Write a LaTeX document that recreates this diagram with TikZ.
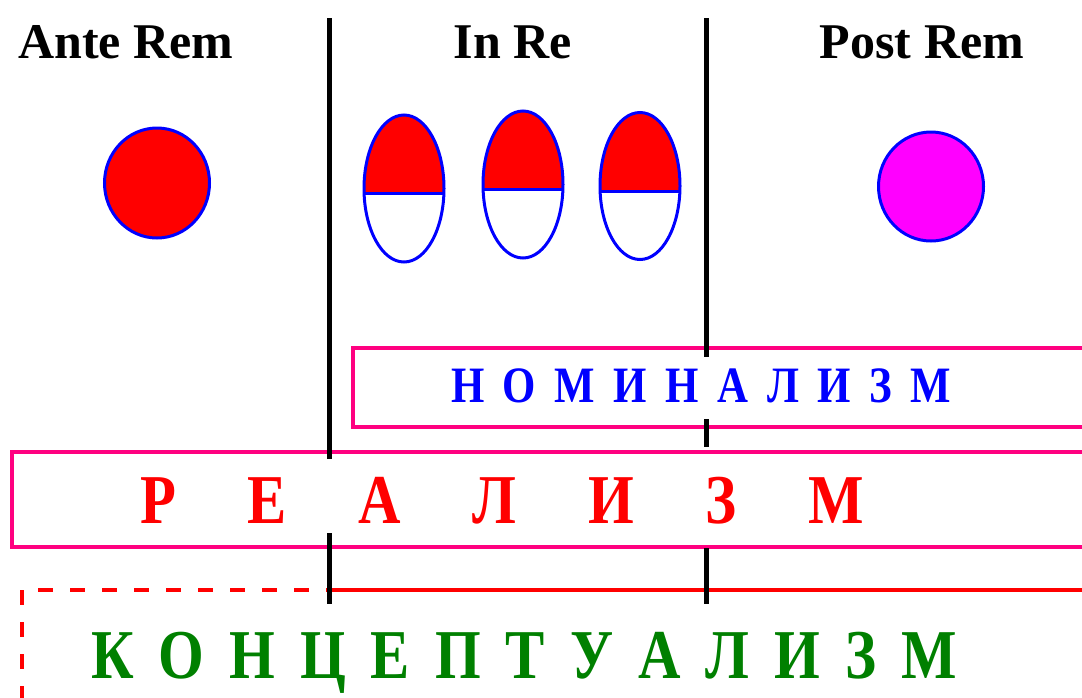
\documentclass[tikz,border=0pt]{standalone}
\usepackage{fontspec}
\setmainfont{Liberation Serif}
\newfontfamily\narrowserif[FakeStretch=0.84]{Liberation Serif}
\definecolor{framepink}{RGB}{255,0,128}
\definecolor{violetfill}{RGB}{255,0,255}
\definecolor{leafgreen}{RGB}{0,128,0}
\tikzset{
  divider/.style={line width=2.5pt, black},
  frame/.style={line width=1.75pt, framepink},
  blob/.style={line width=1.5pt, blue},
  redrule/.style={line width=2.25pt, red},
  dashrule/.style={redrule, dash pattern=on 7.5pt off 8.5pt},
  heading/.style={anchor=base, inner sep=0pt, font=\fontsize{25}{30}\selectfont\bfseries},
  word/.style={anchor=base, inner sep=0pt, font=\narrowserif\fontsize{35}{42}\selectfont\bfseries},
}
\newcommand{\spreadword}[2]{\makebox[#1][s]{#2}}

\begin{document}
\begin{tikzpicture}[x=0.5pt, y=-0.5pt]
  \useasboundingbox (0,0) rectangle (1082,697);
  \clip (0,0) rectangle (1082,697);

  % Headings
  \node[heading] (ante) at (126,58) {Ante Rem};
  \node[heading] (inre) at (513,58) {In Re};
  \node[heading] (post) at (922,58) {Post Rem};

  % Whole idea, idea in things, idea after things
  \draw[blob, fill=red] (157,183) ellipse (52.5 and 55);
  \draw[blob, fill=violetfill] (931,186.5) ellipse (52.5 and 54.5);
  \foreach \cx/\cy/\ly in {404/188.5/193, 523/184.5/189, 640/186/191} {
    \begin{scope}
      \clip (\cx-42,\cy-76) rectangle (\cx+42,\ly);
      \fill[red] (\cx,\cy) ellipse (40 and 73.5);
    \end{scope}
    \draw[blob] (\cx,\cy) ellipse (40 and 73.5);
    \draw[blob] (\cx-40,\ly) -- (\cx+40,\ly);
  }

  % Frames
  \draw[frame] (353,348) rectangle (1100,427);
  \draw[frame] (12,452) rectangle (1100,547);
  \draw[dashrule] (22,590) -- (22,710);
  \draw[dashrule] (38,590) -- (329,590);
  \draw[redrule] (329,590) -- (1100,590);

  % Dividers
  \foreach \x/\ya/\yb in {329/18/459, 329/533/604, 706/18/357, 706/419/447, 706/548/604}
    \draw[divider] (\x,\ya) -- (\x,\yb);

  % Words
  \node[word, blue, font=\narrowserif\fontsize{25.5}{30}\selectfont\bfseries] (nominal) at (701,402)
    {\spreadword{250pt}{Н\hfill О\hfill М\hfill И\hfill Н\hfill А\hfill Л\hfill И\hfill З\hfill М}};
  \node[word, red] (real) at (502,523)
    {\spreadword{362pt}{Р\hfill Е\hfill А\hfill Л\hfill И\hfill З\hfill М}};
  \node[word, leafgreen] (concept) at (524,678)
    {\spreadword{433pt}{К\hfill О\hfill Н\hfill Ц\hfill Е\hfill П\hfill Т\hfill У\hfill А\hfill Л\hfill И\hfill З\hfill М}};
\end{tikzpicture}
\end{document}
